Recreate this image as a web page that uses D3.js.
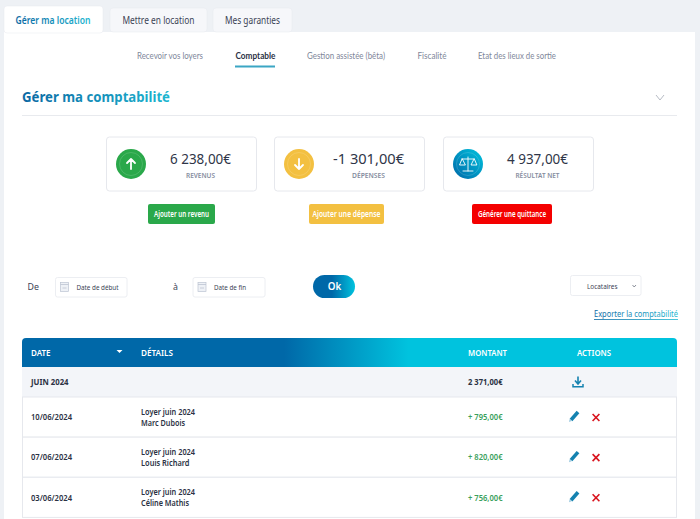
<!DOCTYPE html>
<html>
<head>
<meta charset="utf-8">
<script src="https://cdn.jsdelivr.net/npm/d3@7"></script>
<style>
html,body{margin:0;padding:0;background:#eef1f5;overflow:hidden}
svg{display:block}
text{font-family:"Noto Sans",sans-serif}
.lato{font-family:Lato,sans-serif}
</style>
</head>
<body>
<div id="chart"></div>
<script>
var mainTabs = ['Gérer ma location','Mettre en location','Mes garanties']
var subTabs = ['Recevoir vos loyers','Comptable','Gestion assistée (bêta)','Fiscalité','Etat des lieux de sortie']
var kpiValues = [6238,-1301,4937]
var kpiLabels = ['REVENUS','DÉPENSES','RÉSULTAT NET']
var kpiColors = ['#2aa84a','#f3c041','url(#blueV)']
var kpiButtons = ['Ajouter un revenu','Ajouter une dépense','Générer une quittance']
var kpiButtonColors = ['#2aa84a','#f3c041','#f40000']
var columns = ['DATE','DÉTAILS','MONTANT','ACTIONS']
var monthLabel = 'JUIN 2024'
var monthTotal = 2371
var rowDates = ['10/06/2024','07/06/2024','03/06/2024']
var rowDetails = ['Loyer juin 2024','Loyer juin 2024','Loyer juin 2024']
var rowNames = ['Marc Dubois','Louis Richard','Céline Mathis']
var rowAmounts = [795,820,756]

var width = 700, height = 519
var svg = d3.select('#chart').append('svg').attr('width',width).attr('height',height)
var defs = svg.append('defs')

function gradient(id,x1,x2,stops){
  var g = defs.append('linearGradient').attr('id',id).attr('gradientUnits','userSpaceOnUse')
    .attr('x1',x1).attr('x2',x2).attr('y1',0).attr('y2',0)
  stops.forEach(function(s){ g.append('stop').attr('offset',s[0]).attr('stop-color',s[1]) })
}
gradient('titleGrad',22,170,[[0,'#0a68a3'],[1,'#1db6d0']])
gradient('tabGrad',16,90,[[0,'#0a68a3'],[1,'#1db6d0']])
gradient('headGrad',22,677,[[0,'#0068a8'],[0.4,'#0068a8'],[0.59,'#00c3de'],[1,'#00c3de']])
gradient('okGrad',313,355,[[0,'#0068a8'],[0.45,'#0068a8'],[1,'#00c3de']])
gradient('exportGrad',594,678,[[0,'#0a68a3'],[1,'#1db6d0']])
var bv = defs.append('linearGradient').attr('id','blueV').attr('x1',0).attr('x2',1).attr('y1',1).attr('y2',0)
bv.append('stop').attr('offset',0).attr('stop-color','#0068a8')
bv.append('stop').attr('offset',1).attr('stop-color','#00c3de')

var fmt = function(v){
  var s = d3.format(',.2f')(Math.abs(v)).replace(',',' ').replace('.',',')
  return (v<0?'-':'')+s+'€'
}

// card
svg.append('rect').attr('x',4).attr('y',32).attr('width',691).attr('height',490).attr('fill','#fff')

// main tabs
var tabX = [4,110,213], tabW = [99,97,79]
var tabs = svg.selectAll('g.tab').data(mainTabs).enter().append('g').attr('class','tab')
tabs.append('rect')
  .attr('x',function(d,i){return tabX[i]})
  .attr('y',function(d,i){return i==0?6:8})
  .attr('width',function(d,i){return tabW[i]})
  .attr('height',function(d,i){return i==0?27:24})
  .attr('rx',3)
  .attr('fill',function(d,i){return i==0?'#fff':'#f6f7fa'})
  .attr('stroke','#e6e9ee').attr('stroke-width',0.5)
tabs.append('text')
  .attr('x',function(d,i){return tabX[i]+tabW[i]/2+(i==0?-0.5:0)})
  .attr('y',23.5).attr('text-anchor','middle')
  .attr('font-size',10.6)
  .attr('font-weight',function(d,i){return i==0?600:400})
  .attr('fill',function(d,i){return i==0?'url(#tabGrad)':'#3b4355'})
  .attr('textLength',function(d,i){return [75,72,55][i]})
  .attr('lengthAdjust','spacingAndGlyphs')
  .text(function(d){return d})

// sub tabs
var subX = [137,235.5,307,417.5,478], subW = [66,40,78,29,78]
svg.selectAll('text.sub').data(subTabs).enter().append('text').attr('class','sub lato')
  .attr('x',function(d,i){return subX[i]}).attr('y',58.5)
  .attr('font-size',9)
  .attr('font-weight',function(d,i){return i==1?700:400})
  .attr('fill',function(d,i){return i==1?'#2b3244':'#80879a'})
  .attr('textLength',function(d,i){return subW[i]})
  .attr('lengthAdjust','spacingAndGlyphs')
  .text(function(d){return d})
svg.append('rect').attr('x',235).attr('y',65.5).attr('width',40).attr('height',2).attr('fill','#3ba6c4')

// title
svg.append('text').attr('x',22).attr('y',102).attr('font-size',14).attr('font-weight',700)
  .attr('fill','url(#titleGrad)').attr('textLength',148).attr('lengthAdjust','spacingAndGlyphs')
  .text('Gérer ma comptabilité')
svg.append('path').attr('d','M656 95 L660 100 L664 95').attr('fill','none').attr('stroke','#a3a9b5').attr('stroke-width',0.8)
svg.append('line').attr('x1',22).attr('x2',677).attr('y1',115.5).attr('y2',115.5).attr('stroke','#e8eaee')

// kpi cards
var kpiX = d3.scaleOrdinal().domain(kpiLabels).range([106,274,443])
var cards = svg.selectAll('g.kpi').data(kpiLabels).enter().append('g').attr('class','kpi')
  .attr('transform',function(d){return 'translate('+kpiX(d)+',137)'})
cards.append('rect').attr('x',0.5).attr('y',0).attr('width',150).attr('height',54).attr('rx',3)
  .attr('fill','#fff').attr('stroke','#e6e8ed')
cards.append('circle').attr('cx',25).attr('cy',27).attr('r',15).attr('fill',function(d,i){return kpiColors[i]})
cards.append('circle').attr('cx',25).attr('cy',27).attr('r',11.5).attr('fill','none')
  .attr('stroke','#fff').attr('stroke-opacity',0.15)
cards.append('text').attr('x',94.5).attr('y',26.5).attr('text-anchor','middle')
  .attr('font-size',15).attr('fill','#2f3648')
  .attr('textLength',function(d,i){return [61,71,61][i]}).attr('lengthAdjust','spacingAndGlyphs')
  .text(function(d,i){return fmt(kpiValues[i])})
cards.append('text').attr('x',94.5).attr('y',41).attr('text-anchor','middle')
  .attr('font-size',7.6).attr('font-weight',600).attr('fill','#858c9e')
  .attr('textLength',function(d,i){return [29,33,44][i]}).attr('lengthAdjust','spacingAndGlyphs')
  .text(function(d){return d})
// icons
var iconStroke = function(g,d){ return g.append('path').attr('d',d).attr('fill','none').attr('stroke','#fff').attr('stroke-width',1.6).attr('stroke-linecap','round').attr('stroke-linejoin','round') }
iconStroke(d3.select(cards.nodes()[0]),'M25 32 V22 M21 26 L25 22 L29 26').attr('stroke-width',1.8)
iconStroke(d3.select(cards.nodes()[1]),'M25 22 V32 M21 28 L25 32 L29 28').attr('stroke-width',1.8)
iconStroke(d3.select(cards.nodes()[2]),'M25 20 V34 M20 34 H30 M19 22 H31 M19 22 L16.5 28 H22 Z M31 22 L28 28 H33.5 Z').attr('stroke-width',0.9)

// kpi buttons
var btnX = [148,309,472], btnW = [67,75,80]
var btns = svg.selectAll('g.btn').data(kpiButtons).enter().append('g').attr('class','btn')
btns.append('rect').attr('x',function(d,i){return btnX[i]}).attr('y',204)
  .attr('width',function(d,i){return btnW[i]}).attr('height',20).attr('rx',2)
  .attr('fill',function(d,i){return kpiButtonColors[i]})
btns.append('text').attr('x',function(d,i){return btnX[i]+btnW[i]/2}).attr('y',217)
  .attr('text-anchor','middle').attr('font-size',8.2).attr('font-weight',600).attr('fill','#fff')
  .attr('textLength',function(d,i){return [55,68,68][i]}).attr('lengthAdjust','spacingAndGlyphs')
  .text(function(d){return d})

// filters
svg.append('text').attr('x',27.5).attr('y',290).attr('font-size',8.8).attr('fill','#3b4355').text('De')
svg.append('text').attr('x',173).attr('y',290).attr('font-size',8.8).attr('fill','#3b4355').text('à')
var inputX = [55,192.5], inputW = [71.5,72], inputTxt = ['Date de début','Date de fin'], inputLen = [42,32]
inputTxt.forEach(function(t,i){
  var x = inputX[i]
  svg.append('rect').attr('x',x+0.5).attr('y',277.5).attr('width',inputW[i]).attr('height',19.5).attr('rx',2)
    .attr('fill','#fff').attr('stroke','#eceef2')
  svg.append('rect').attr('x',x+5.5).attr('y',282.5).attr('width',8).attr('height',9).attr('fill','#eef1f6').attr('stroke','#bcc4d2').attr('stroke-width',0.7)
  svg.append('path').attr('d','M'+(x+5.5)+' 284.5 H'+(x+13.5)+' M'+(x+7.5)+' 288 H'+(x+11.5))
    .attr('stroke','#bcc4d2').attr('stroke-width',0.8).attr('fill','none')
  svg.append('text').attr('x',x+21.5).attr('y',290).attr('font-size',7.8).attr('fill','#3b4355')
    .attr('textLength',inputLen[i]).attr('lengthAdjust','spacingAndGlyphs').text(t)
})
svg.append('rect').attr('x',313).attr('y',275).attr('width',42).attr('height',23).attr('rx',11.5).attr('fill','url(#okGrad)')
svg.append('text').attr('x',334.5).attr('y',290).attr('text-anchor','middle').attr('font-size',9.8).attr('font-weight',600).attr('fill','#fff').text('Ok')

svg.append('rect').attr('x',570.5).attr('y',275.5).attr('width',70.5).attr('height',20).attr('rx',2).attr('fill','#fff').attr('stroke','#eceef2')
svg.append('text').attr('x',587).attr('y',288.5).attr('font-size',7.4).attr('fill','#3b4355')
  .attr('textLength',30.5).attr('lengthAdjust','spacingAndGlyphs').text('Locataires')
svg.append('path').attr('d','M632.5 285 L634.2 287 L636 285').attr('fill','none').attr('stroke','#5a6170').attr('stroke-width',0.7)

svg.append('text').attr('x',594).attr('y',317).attr('font-size',9.6).attr('fill','url(#exportGrad)')
  .attr('textLength',84).attr('lengthAdjust','spacingAndGlyphs').text('Exporter la comptabilité')
svg.append('rect').attr('x',594).attr('y',319).attr('width',84).attr('height',0.8).attr('fill','url(#exportGrad)')

// table
var colX = d3.scaleOrdinal().domain(columns).range([31,141,468,577])
var rowH = d3.scaleBand().domain(rowDates).range([397,517.4])
svg.append('path').attr('d','M22 367 V342 Q22 338 26 338 H673 Q677 338 677 342 V367 Z').attr('fill','url(#headGrad)')
svg.selectAll('text.head').data(columns).enter().append('text').attr('class','head')
  .attr('x',function(d){return colX(d)}).attr('y',356).attr('font-size',8.6).attr('font-weight',600).attr('fill','#fff')
  .attr('textLength',function(d,i){return [19.5,32,39,34][i]}).attr('lengthAdjust','spacingAndGlyphs')
  .text(function(d){return d})
svg.append('path').attr('d','M116.5 350 H122.5 L119.5 353 Z').attr('fill','#fff')

svg.append('rect').attr('x',22).attr('y',367).attr('width',655).attr('height',30).attr('fill','#f3f5f9')
svg.append('text').attr('x',colX('DATE')).attr('y',385).attr('font-size',8.2).attr('font-weight',700).attr('fill','#2b3244')
  .attr('textLength',37.5).attr('lengthAdjust','spacingAndGlyphs').text(monthLabel)
svg.append('text').attr('x',colX('MONTANT')).attr('y',385).attr('font-size',8.2).attr('font-weight',700).attr('fill','#2b3244')
  .attr('textLength',34.5).attr('lengthAdjust','spacingAndGlyphs').text(fmt(monthTotal))
// download icon
svg.append('path').attr('d','M578 376.5 V383.5 M575 380.5 L578 384 L581 380.5')
  .attr('fill','none').attr('stroke','#1582b0').attr('stroke-width',1.6)
svg.append('path').attr('d','M573 384 V386.8 H583 V384').attr('fill','none').attr('stroke','#1582b0').attr('stroke-width',1.5)

var rows = svg.selectAll('g.row').data(rowDates).enter().append('g').attr('class','row')
  .attr('transform',function(d){return 'translate(0,'+rowH(d)+')'})
rows.append('rect').attr('x',22.5).attr('y',0).attr('width',654).attr('height',rowH.bandwidth()).attr('fill','#fff').attr('stroke','#e6e8ed')
rows.append('text').attr('x',colX('DATE')).attr('y',23.3).attr('font-size',8.2).attr('font-weight',600).attr('fill','#2b3244')
  .attr('textLength',41).attr('lengthAdjust','spacingAndGlyphs').text(function(d){return d})
rows.append('text').attr('x',colX('DÉTAILS')).attr('y',18).attr('font-size',8.2).attr('font-weight',600).attr('fill','#2b3244')
  .attr('textLength',54).attr('lengthAdjust','spacingAndGlyphs').text(function(d,i){return rowDetails[i]})
rows.append('text').attr('x',colX('DÉTAILS')).attr('y',28.7).attr('font-size',8.2).attr('font-weight',600).attr('fill','#2b3244')
  .attr('textLength',function(d,i){return [44,48.5,48][i]}).attr('lengthAdjust','spacingAndGlyphs').text(function(d,i){return rowNames[i]})
rows.append('text').attr('x',colX('MONTANT')).attr('y',23.3).attr('font-size',8.2).attr('font-weight',600).attr('fill','#3a9f5c')
  .attr('textLength',34.5).attr('lengthAdjust','spacingAndGlyphs').text(function(d,i){return '+ '+fmt(rowAmounts[i])})
// pencil
rows.append('path').attr('d','M571 23 L578 15').attr('stroke','#1582b0').attr('stroke-width',3.6).attr('fill','none')
rows.append('path').attr('d','M569 25 L569.6 22 L571.6 24 Z').attr('fill','#9fcbe0')
// cross
rows.append('path').attr('d','M592.6 17 L599.4 24 M599.4 17 L592.6 24').attr('stroke','#d9141e').attr('stroke-width',1.6).attr('fill','none')
</script>
</body>
</html>
